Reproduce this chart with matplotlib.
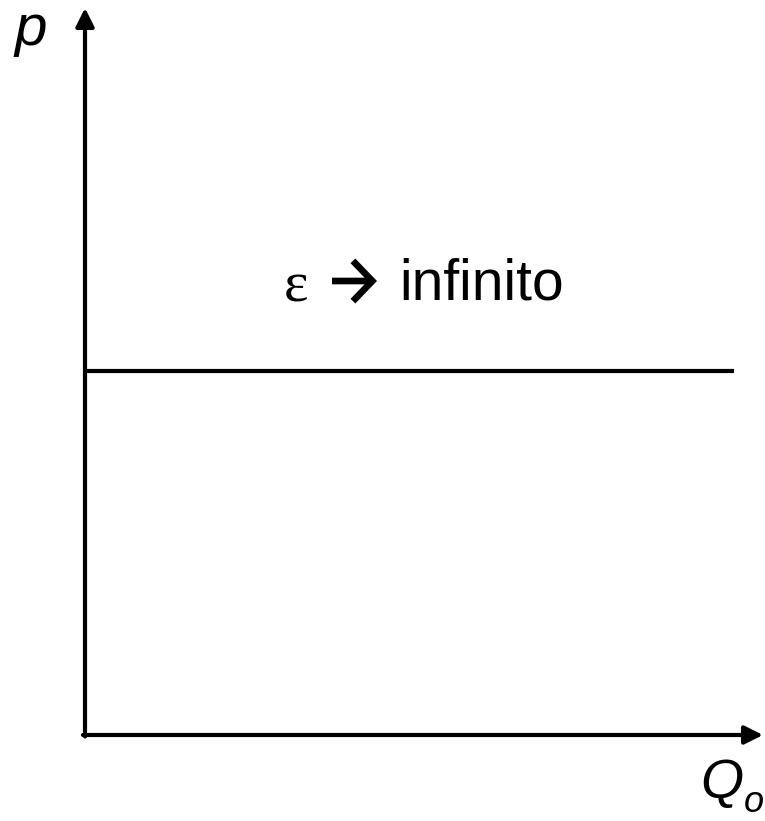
import matplotlib
matplotlib.use("Agg")
import matplotlib.pyplot as plt

# conceptual data (arbitrary units)
x_max = 10.0          # quantity axis length
y_max = 10.0          # price axis length
price_level = 5.0     # perfectly elastic supply: constant price
q_line = [0.0, 9.57]  # extent of the horizontal line
label_text = ["ε", "infinito"]
x_label = "Q"
x_sub = "o"
y_label = "p"

W, H = 765, 821
fig = plt.figure(figsize=(W / 100, H / 100), dpi=100)

def px(x, y):
    return x / W, 1 - y / H

ox, oy = 85, 735
tx, ty = 763, 8
ax = fig.add_axes([ox / W, 1 - oy / H, (tx - ox) / W, (oy - ty) / H])
ax.set_xlim(0, x_max)
ax.set_ylim(0, y_max)
ax.axis("off")

lw = 3.0
# axes arrows
ax.annotate("", xy=(x_max, 0), xytext=(-0.03, 0),
            arrowprops=dict(arrowstyle="-|>,head_length=1.1,head_width=0.55",
                            lw=lw, color="black", shrinkA=0, shrinkB=0),
            annotation_clip=False)
ax.annotate("", xy=(0, y_max), xytext=(0, -0.02),
            arrowprops=dict(arrowstyle="-|>,head_length=1.1,head_width=0.55",
                            lw=lw, color="black", shrinkA=0, shrinkB=0),
            annotation_clip=False)

# horizontal supply curve
ax.plot(q_line, [price_level, price_level], color="black", lw=lw,
        solid_capstyle="butt")

# label pieces
fig.text(*px(284, 301), label_text[0], fontsize=42, family="Liberation Serif",
         ha="left", va="baseline")
# arrow glyph (wingdings-style chevron arrow)
fig.patches.append(matplotlib.patches.FancyArrowPatch(
    px(332, 281), px(377, 281), transform=fig.transFigure,
    arrowstyle="->,head_length=1.4,head_width=1.45", mutation_scale=10,
    lw=4.8, color="black", shrinkA=0, shrinkB=0, joinstyle="miter",
    capstyle="butt"))
fig.text(*px(399, 300), label_text[1], fontsize=41, family="Liberation Sans",
         ha="left", va="baseline")

# axis labels
fig.text(*px(14, 45), y_label, fontsize=42, family="Liberation Sans",
         style="italic", ha="left", va="baseline")
fig.text(*px(700, 798), x_label, fontsize=40, family="Liberation Sans",
         style="italic", ha="left", va="baseline")
fig.text(*px(744, 812), x_sub, fontsize=26, family="Liberation Sans",
         style="italic", ha="left", va="baseline")

fig.savefig("out.png", dpi=100)
